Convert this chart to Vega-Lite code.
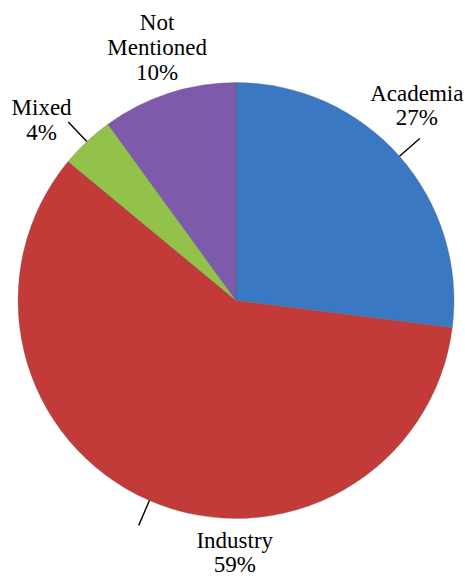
{
  "$schema": "https://vega.github.io/schema/vega-lite/v6.json",
  "width": 465,
  "height": 576,
  "autosize": {"type": "fit", "contains": "padding"},
  "padding": {"left": 8, "right": 1, "top": 24, "bottom": 0},
  "background": "white",
  "view": {"stroke": null},
  "data": {
    "values": [
      {"category": "Academia", "value": 27, "order": 1},
      {"category": "Industry", "value": 59, "order": 2},
      {"category": "Mixed", "value": 4, "order": 3},
      {"category": "Not Mentioned", "value": 10, "order": 4}
    ]
  },
  "transform": [
    {"stack": "value", "groupby": [], "sort": [{"field": "order", "order": "ascending"}], "as": ["t0", "t1"]},
    {"calculate": "(datum.t0 + datum.t1) / 2", "as": "mid"},
    {"calculate": "replace(datum.category, ' ', '\\n') + '\\n' + datum.value + '%'", "as": "label"}
  ],
  "layer": [
    {
      "mark": {"type": "arc", "radius": 218, "stroke": "#5a5a5a", "strokeWidth": 0.6, "strokeOpacity": 0.5},
      "encoding": {
        "theta": {"field": "t0", "type": "quantitative", "scale": {"domain": [0, 100]}},
        "theta2": {"field": "t1"},
        "color": {
          "field": "category",
          "type": "nominal",
          "scale": {
            "domain": ["Academia", "Industry", "Mixed", "Not Mentioned"],
            "range": ["#3a78c4", "#c33b38", "#93c24a", "#7e5aaa"]
          },
          "legend": null
        }
      }
    },
    {
      "transform": [{"filter": "datum.category != 'Not Mentioned'"}],
      "mark": {"type": "arc", "radius": 245, "radius2": 218, "stroke": "black", "strokeWidth": 1.4, "fill": null},
      "encoding": {
        "theta": {"field": "mid", "type": "quantitative"},
        "theta2": {"field": "mid"}
      }
    },
    {
      "transform": [{"filter": "datum.category == 'Academia'"}],
      "mark": {"type": "text", "radius": 265, "dx": -18, "dy": -31, "font": "Liberation Serif", "fontSize": 23, "lineHeight": 24, "lineBreak": "\n", "align": "center", "baseline": "middle", "color": "black"},
      "encoding": {"theta": {"field": "mid", "type": "quantitative"}, "text": {"field": "label"}}
    },
    {
      "transform": [{"filter": "datum.category == 'Industry'"}],
      "mark": {"type": "text", "radius": 265, "dx": 104, "dy": -3, "font": "Liberation Serif", "fontSize": 23, "lineHeight": 24, "lineBreak": "\n", "align": "center", "baseline": "middle", "color": "black"},
      "encoding": {"theta": {"field": "mid", "type": "quantitative"}, "text": {"field": "label"}}
    },
    {
      "transform": [{"filter": "datum.category == 'Mixed'"}],
      "mark": {"type": "text", "radius": 265, "dx": -13, "dy": 1, "font": "Liberation Serif", "fontSize": 23, "lineHeight": 25, "lineBreak": "\n", "align": "center", "baseline": "middle", "color": "black"},
      "encoding": {"theta": {"field": "mid", "type": "quantitative"}, "text": {"field": "label"}}
    },
    {
      "transform": [{"filter": "datum.category == 'Not Mentioned'"}],
      "mark": {"type": "text", "radius": 265, "dx": 3, "dy": -25, "font": "Liberation Serif", "fontSize": 23, "lineHeight": 25, "lineBreak": "\n", "align": "center", "baseline": "middle", "color": "black"},
      "encoding": {"theta": {"field": "mid", "type": "quantitative"}, "text": {"field": "label"}}
    }
  ]
}
